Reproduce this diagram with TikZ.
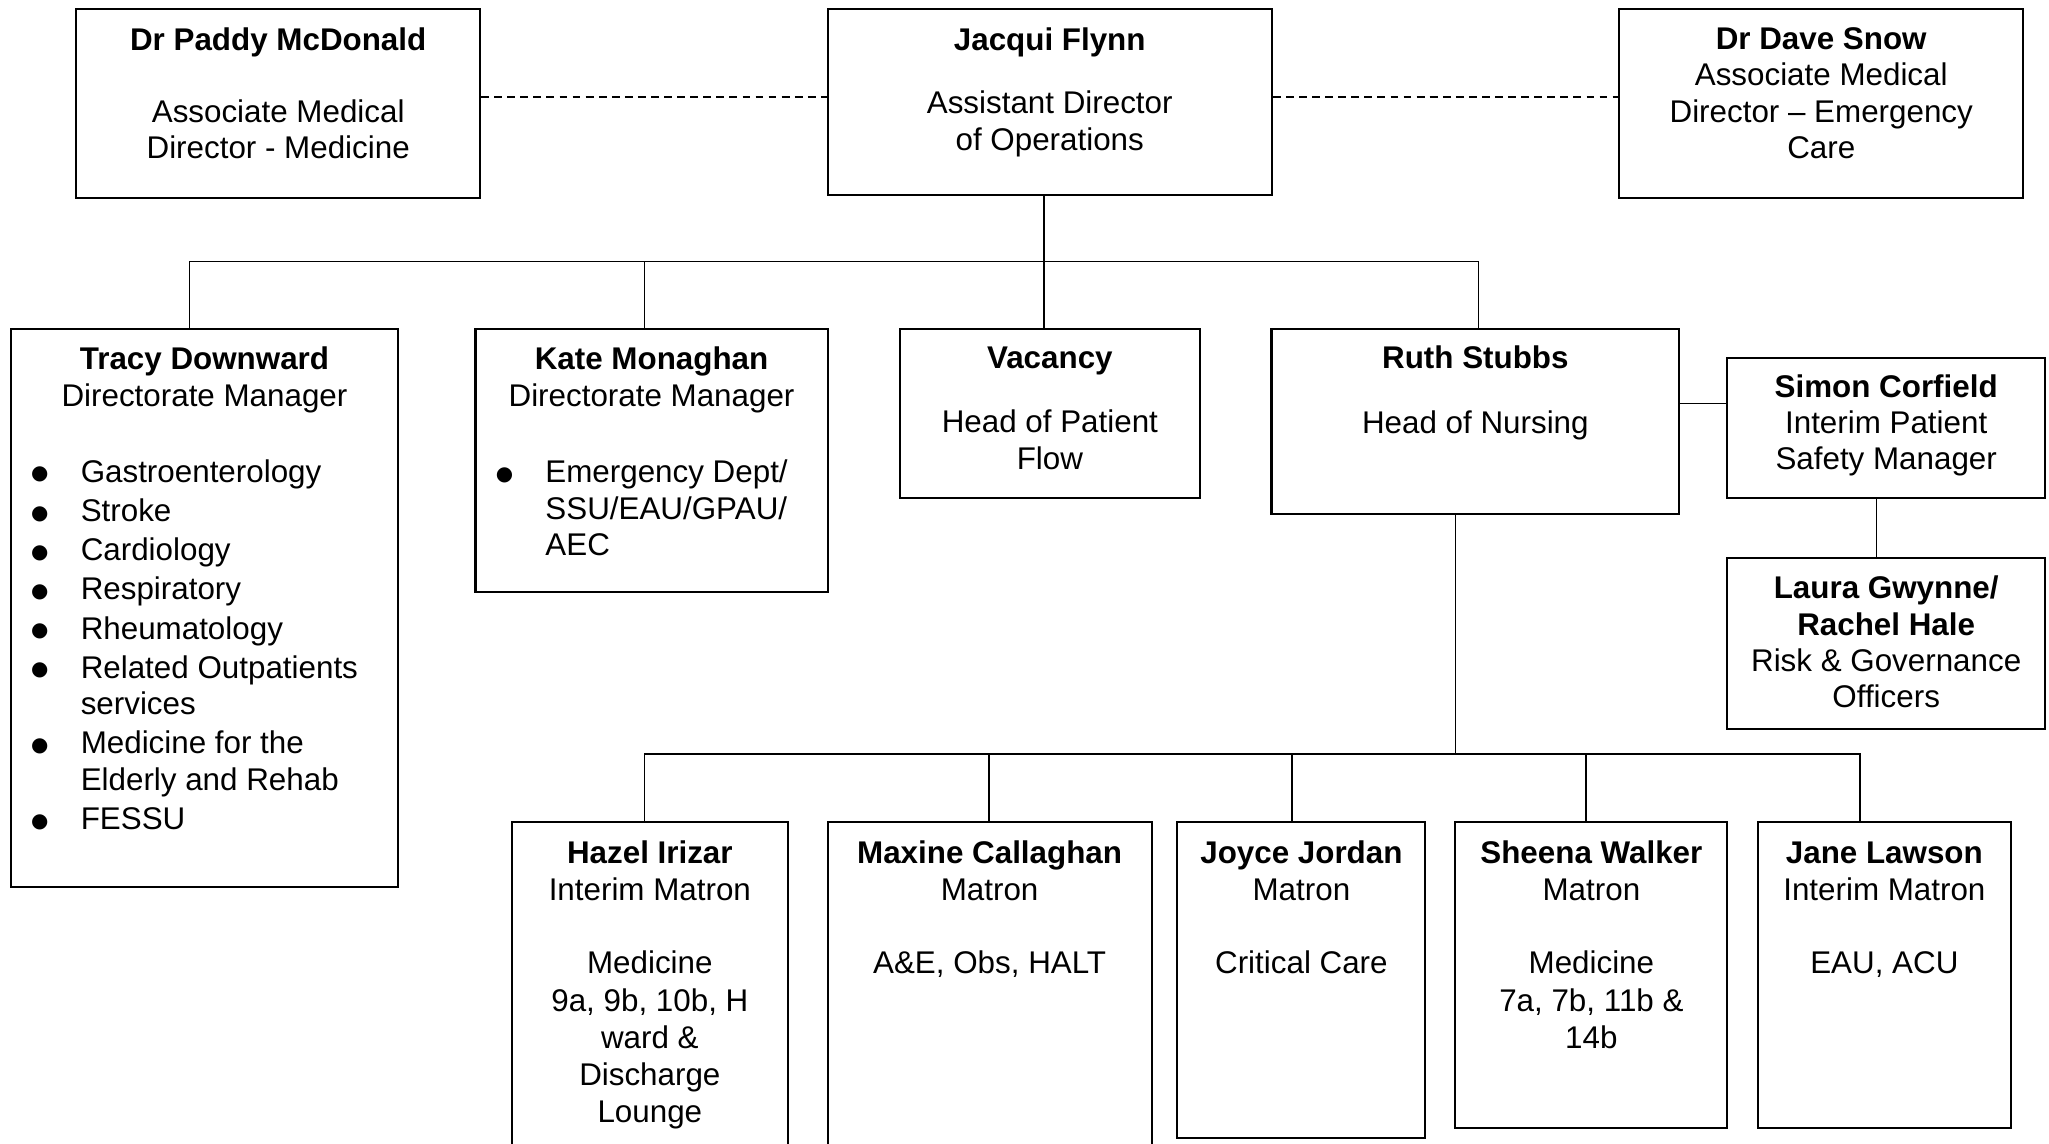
\documentclass[tikz,border=0pt]{standalone}
\usepackage{fontspec}
\setmainfont{Liberation Sans}
\newfontfamily\bulfont{DejaVu Sans}
\usetikzlibrary{fit}
\newcommand{\bul}{\raisebox{0.9pt}{\fontsize{7.6pt}{13.9pt}\bulfont ●}}
\newcommand{\bitem}[1]{\strut\makebox[19pt][l]{\bul}#1}
\newcommand{\bcont}[1]{\strut\hspace*{19pt}#1}
\begin{document}
\begin{tikzpicture}[x=0.5pt,y=-0.5pt,
  box/.style={draw, line width=0.8pt, inner sep=0pt},
  txt/.style={anchor=north, align=center, inner sep=0pt, font=\fontsize{12pt}{13.9pt}\selectfont},
  mtxt/.style={anchor=north, align=center, inner sep=0pt, font=\fontsize{12pt}{14.25pt}\selectfont},
  ltxt/.style={anchor=north west, align=left, inner sep=0pt, font=\fontsize{12pt}{13.9pt}\selectfont},
  conn/.style={line width=0.6pt},
  dashconn/.style={line width=0.6pt, dash pattern=on 3pt off 2pt}]
\useasboundingbox (0,0) rectangle (1568,874.7);

% ---------- top row ----------
\node[box, fit={(58.5,7.1) (367.4,151.3)}] (paddy) {};
\node[txt] (paddyT) at (212.9,18.7) {\strut\textbf{Dr Paddy McDonald}\\[13.7pt]\strut Associate Medical\\\strut Director - Medicine};

\node[box, fit={(633.3,7.1) (973.3,149.3)}] (jacqui) {};
\node[txt] (jacquiT) at (803.3,18.8) {\strut\textbf{Jacqui Flynn}\\[10.3pt]\strut Assistant Director\\\strut of Operations};

\node[box, fit={(1239.2,7.1) (1548.3,151.3)}] (dave) {};
\node[txt] (daveT) at (1393.7,18.1) {\strut\textbf{Dr Dave Snow}\\\strut Associate Medical\\\strut Director \textendash{} Emergency\\\strut Care};

% ---------- second row ----------
\node[box, fit={(8.5,251.6) (304.4,679)}] (tracy) {};
\node[txt] (tracyT) at (156.5,263.1) {\strut\textbf{Tracy Downward}\\\strut Directorate Manager};
\node[ltxt] (tracyL) at (23.4,349.2) {\bitem{Gastroenterology}\\[1.1pt]\bitem{Stroke}\\[1.1pt]\bitem{Cardiology}\\[1.1pt]\bitem{Respiratory}\\[1.1pt]\bitem{Rheumatology}\\[1.1pt]\bitem{Related Outpatients}\\\bcont{services}\\[1.1pt]\bitem{Medicine for the}\\\bcont{Elderly and Rehab}\\[1.1pt]\bitem{FESSU}};

\node[box, fit={(363.9,251.6) (633.3,453)}] (kate) {};
\node[txt] (kateT) at (498.6,263.1) {\strut\textbf{Kate Monaghan}\\\strut Directorate Manager};
\node[ltxt] (kateL) at (379,349.6) {\bitem{Emergency Dept/}\\\bcont{SSU/EAU/GPAU/}\\\bcont{AEC}};

\node[box, fit={(688.7,251.8) (918,381.3)}] (vacancy) {};
\node[txt] (vacancyT) at (803.4,262.3) {\strut\textbf{Vacancy}\\[10.6pt]\strut Head of Patient\\\strut Flow};

\node[box, fit={(973,251.8) (1285,393.6)}] (ruth) {};
\node[txt] (ruthT) at (1129,262.5) {\strut\textbf{Ruth Stubbs}\\[10.6pt]\strut Head of Nursing};

\node[box, fit={(1321.8,274.2) (1565,380.8)}] (simon) {};
\node[txt] (simonT) at (1443.4,284) {\strut\textbf{Simon Corfield}\\\strut Interim Patient\\\strut Safety Manager};

\node[box, fit={(1321.8,427.3) (1565,558.1)}] (laura) {};
\node[txt] (lauraT) at (1443.4,438.4) {\strut\textbf{Laura Gwynne/}\\\strut\textbf{Rachel Hale}\\\strut Risk \& Governance\\\strut Officers};

% ---------- third row ----------
\node[box, fit={(391.7,629) (603,880)}] (hazel) {};
\node[mtxt] (hazelT) at (497.3,640.5) {\strut\textbf{Hazel Irizar}\\\strut Interim Matron\\[13.7pt]\strut Medicine\\\strut 9a, 9b, 10b, H\\\strut ward \&\\\strut Discharge\\\strut Lounge};

\node[box, fit={(633.3,629) (881.3,880)}] (maxine) {};
\node[mtxt] (maxineT) at (757.3,640.5) {\strut\textbf{Maxine Callaghan}\\\strut Matron\\[13.7pt]\strut A\&E, Obs, HALT};

\node[box, fit={(901,629) (1090.7,870.7)}] (joyce) {};
\node[mtxt] (joyceT) at (995.9,640.5) {\strut\textbf{Joyce Jordan}\\\strut Matron\\[13.7pt]\strut Critical Care};

\node[box, fit={(1113.7,629) (1321.8,862.9)}] (sheena) {};
\node[mtxt] (sheenaT) at (1217.8,640.5) {\strut\textbf{Sheena Walker}\\\strut Matron\\[13.7pt]\strut Medicine\\\strut 7a, 7b, 11b \&\\\strut 14b};

\node[box, fit={(1345,629) (1539,862.9)}] (jane) {};
\node[mtxt] (janeT) at (1442,640.5) {\strut\textbf{Jane Lawson}\\\strut Interim Matron\\[13.7pt]\strut EAU, ACU};

% ---------- connectors ----------
\draw[dashconn] (paddy.east |- 0,74.2) -- (jacqui.west |- 0,74.2);
\draw[dashconn] (jacqui.east |- 0,74.2) -- (dave.west |- 0,74.2);

\coordinate (barL) at (145,200.1);
\coordinate (barR) at (1131.5,200.1);
\coordinate (barK) at (493.3,200.1);
\draw[conn] (jacqui.south -| 799,0) -- (vacancy.north -| 799,0);
\draw[conn] (tracy.north -| barL) -- (barL) -- (barR) -- (ruth.north -| barR);
\draw[conn] (barK) -- (kate.north -| barK);

\draw[conn] (ruth.east |- 0,308.7) -- (simon.west |- 0,308.7);
\draw[conn] (simon.south -| 1436.1,0) -- (laura.north -| 1436.1,0);

\coordinate (mbarL) at (493.3,577.1);
\coordinate (mbarR) at (1423.4,577.1);
\coordinate (mtop) at (1113.7,577.1);
\draw[conn] (ruth.south -| mtop) -- (mtop);
\draw[conn] (hazel.north -| mbarL) -- (mbarL) -- (mbarR) -- (jane.north -| mbarR);
\draw[conn] (maxine.north -| 757,0) -- (757,577.1);
\draw[conn] (joyce.north -| 988.6,0) -- (988.6,577.1);
\draw[conn] (sheena.north -| 1213.7,0) -- (1213.7,577.1);
\end{tikzpicture}
\end{document}
